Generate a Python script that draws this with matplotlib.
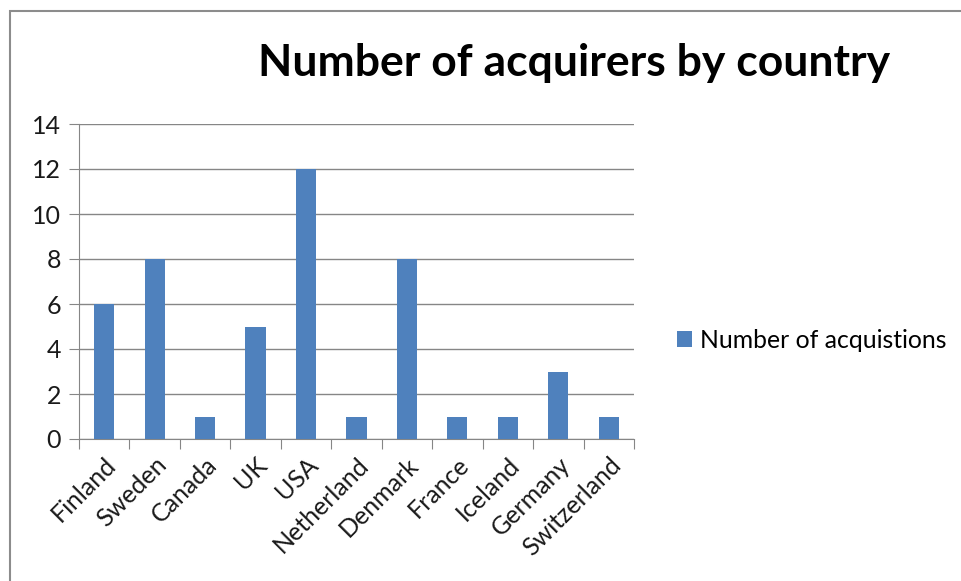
import matplotlib.pyplot as plt
from matplotlib.patches import Rectangle

# Chart data
countries = ["Finland", "Sweden", "Canada", "UK", "USA", "Netherland",
             "Denmark", "France", "Iceland", "Germany", "Switzerland"]
acquisitions = [6, 8, 1, 5, 12, 1, 8, 1, 1, 3, 1]
y_ticks = [0, 2, 4, 6, 8, 10, 12, 14]

BAR_COLOR = "#4F81BD"
GRID_COLOR = "#868686"
FONT = "Lato"

plt.rcParams["font.family"] = [FONT, "DejaVu Sans"]

fig = plt.figure(figsize=(9.62, 5.81), dpi=100)
W, H = 962, 581

# outer chart border (only left and top visible)
fig.patches.append(Rectangle((10 / W, -0.1), 1.2, 1 - 10.5 / H + 0.1,
                             transform=fig.transFigure, fill=False,
                             edgecolor="#8c8c8c", linewidth=1.5))

ax = fig.add_axes([79 / W, 1 - 439 / H, (634 - 79) / W, (439 - 124) / H])
x = list(range(len(countries)))
ax.bar(x, acquisitions, width=0.4, color=BAR_COLOR, label="Number of acquistions",
       zorder=3)

ax.set_xlim(-0.5, len(countries) - 0.5)
ax.set_ylim(0, 14)
ax.set_yticks(y_ticks)
ax.yaxis.grid(True, color=GRID_COLOR, linewidth=1)
ax.set_axisbelow(True)
for side in ["top", "right"]:
    ax.spines[side].set_visible(False)
ax.spines["left"].set_color(GRID_COLOR)
ax.spines["bottom"].set_color(GRID_COLOR)
ax.tick_params(axis="y", length=7, color=GRID_COLOR, labelsize=18, pad=6,
               labelcolor="#1a1a1a")

# category boundary ticks
ax.set_xticks([i - 0.5 for i in range(len(countries) + 1)], minor=False)
ax.set_xticklabels([])
ax.tick_params(axis="x", which="major", length=7, color=GRID_COLOR)
ax.set_xticks(x, minor=True)
ax.set_xticklabels(countries, minor=True, rotation=45, ha="right",
                   rotation_mode="anchor", fontsize=18, color="#1a1a1a")
ax.tick_params(axis="x", which="minor", length=0, pad=10)

fig.text(574 / W, 1 - 63 / H, "Number of acquirers by country", ha="center",
         va="center", fontsize=32, fontweight="bold")

ax.legend(loc="center left", bbox_to_anchor=(677 / W, 1 - 340 / H),
          bbox_transform=fig.transFigure, frameon=False, fontsize=17.8,
          handlelength=0.6, handleheight=0.6, handletextpad=0.35,
          borderaxespad=0, borderpad=0)

fig.savefig("out.png", dpi=100, facecolor="white")
